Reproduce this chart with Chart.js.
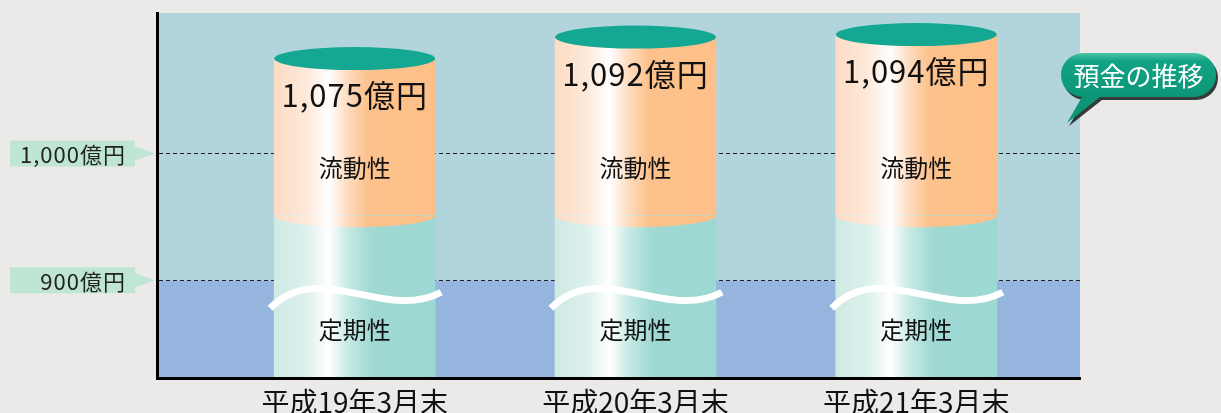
<!DOCTYPE html>
<html><head><meta charset="utf-8">
<script src="https://cdn.jsdelivr.net/npm/chart.js@4.4.0/dist/chart.umd.min.js"></script>
<style>html,body{margin:0;padding:0;background:#ebeae8;overflow:hidden}#wrap{width:1221px;height:413px;position:relative}</style>
</head><body><div id="wrap"><canvas id="c" width="1221" height="413"></canvas></div>
<script>
// ---- data ----
const categories = ['平成19年3月末', '平成20年3月末', '平成21年3月末'];
const totalValues = [1075, 1092, 1094];          // 預金合計（億円）
const fixedTopValues = [951, 951, 951];          // 定期性部分の上端（省略軸上の見かけ値）
const valueLabels = ['1,075億円', '1,092億円', '1,094億円'];
const seriesNames = ['定期性', '流動性'];
const yTickValues = [900, 1000];
const yTickLabels = ['900億円', '1,000億円'];
const titleText = '預金の推移';

// ---- layout constants ----
const Y_MIN = 822.8, Y_MAX = 1111;
const X_MIN = -0.704, X_MAX = 2.583;
const BAR_W = 161;
const FONT = '"Noto Sans CJK JP", "Noto Sans", sans-serif';

const ORANGE_STOPS = [[0, '#fddcc4'], [0.2, '#fee9da'], [0.34, '#ffffff'], [0.45, '#fdddc2'], [0.58, '#fdc28c'], [1, '#fdc088']];
const TEAL_STOPS = [[0, '#cfe9e3'], [0.2, '#dcf0ec'], [0.34, '#ffffff'], [0.45, '#c9ebe6'], [0.6, '#a0d9d4'], [1, '#9dd8d3']];

function makeGrad(chart, cx, stops) {
  const g = chart.ctx.createLinearGradient(cx - BAR_W / 2, 0, cx + BAR_W / 2, 0);
  stops.forEach(([o, c]) => g.addColorStop(o, c));
  return g;
}
function scriptGrad(stops) {
  return (ctx) => {
    const chart = ctx.chart;
    if (!chart.chartArea || !ctx.raw) return stops[stops.length - 1][1];
    const cx = chart.scales.x.getPixelForValue(ctx.raw.x);
    return makeGrad(chart, cx, stops);
  };
}
function setSpacing(ctx, v) { if ('letterSpacing' in ctx) ctx.letterSpacing = v; }

const decor = {
  id: 'decor',
  beforeDraw(chart) {
    const { ctx, chartArea: a, scales } = chart;
    ctx.save();
    ctx.fillStyle = '#ebeae8';
    ctx.fillRect(0, 0, chart.width, chart.height);
    const y9 = scales.y.getPixelForValue(900);
    ctx.fillStyle = '#b2d4dc';
    ctx.fillRect(a.left, a.top, a.right - a.left, y9 - a.top);
    ctx.fillStyle = '#95b5de';
    ctx.fillRect(a.left, y9, a.right - a.left, a.bottom - y9);
    ctx.restore();
  },
  afterDatasetsDraw(chart) {
    const { ctx, scales } = chart;
    const m1 = chart.getDatasetMeta(1).data;
    const y9 = scales.y.getPixelForValue(900);
    ctx.save();
    m1.forEach((el, i) => {
      const cx = el.x, hw = el.width / 2, ry = 11.5;
      const top = Math.min(el.y, el.base), bot = Math.max(el.y, el.base);
      // orange bottom rim over the lower part
      ctx.beginPath();
      ctx.ellipse(cx, bot, hw, ry, 0, 0, Math.PI);
      ctx.closePath();
      ctx.fillStyle = makeGrad(chart, cx, ORANGE_STOPS);
      ctx.fill();
      // top lid
      ctx.beginPath();
      ctx.ellipse(cx, top, hw, ry, 0, 0, Math.PI * 2);
      ctx.fillStyle = '#14a893';
      ctx.fill();
      // axis-break wave
      const L = cx - hw, R = cx + hw;
      ctx.beginPath();
      ctx.moveTo(L - 4, y9 + 28);
      ctx.bezierCurveTo(L + 45, y9 - 22, L + 110, y9 + 42, R + 6, y9 + 12);
      ctx.strokeStyle = '#ffffff';
      ctx.lineWidth = 7;
      ctx.stroke();
      // texts
      ctx.fillStyle = '#111';
      ctx.textAlign = 'center';
      ctx.textBaseline = 'middle';
      ctx.font = '31px ' + FONT;
      setSpacing(ctx, '1px');
      ctx.fillText(valueLabels[i], cx, top + 37);
      setSpacing(ctx, '0px');
      ctx.font = '24px ' + FONT;
      ctx.fillText(seriesNames[1], cx, bot - 48);
      ctx.fillText(seriesNames[0], cx, y9 + 50);
    });
    ctx.restore();
  },
  afterDraw(chart) {
    const { ctx, scales } = chart;
    ctx.save();
    // x category labels
    ctx.fillStyle = '#111';
    ctx.textAlign = 'center';
    ctx.textBaseline = 'middle';
    ctx.font = '28px ' + FONT;
    categories.forEach((c, i) => {
      ctx.fillText(c, scales.x.getPixelForValue(i), 402);
    });
    // y tick labels in boxes
    yTickValues.forEach((v, i) => {
      const y = scales.y.getPixelForValue(v);
      ctx.fillStyle = '#bfe6d5';
      ctx.fillRect(10, y - 13, 125, 26);
      ctx.beginPath();
      ctx.moveTo(135, y - 7);
      ctx.lineTo(155, y);
      ctx.lineTo(135, y + 7);
      ctx.closePath();
      ctx.fill();
      ctx.fillStyle = '#222';
      ctx.textAlign = 'right';
      ctx.font = '22px ' + FONT;
      setSpacing(ctx, '1px');
      ctx.fillText(yTickLabels[i], 126, y + 1);
      setSpacing(ctx, '0px');
    });
    // callout
    const bx = 1061, by = 53, bw = 155, bh = 44, r = 22;
    const shape = (ox, oy) => {
      ctx.beginPath();
      ctx.moveTo(bx + r + ox, by + oy);
      ctx.lineTo(bx + bw - r + ox, by + oy);
      ctx.arc(bx + bw - r + ox, by + r + oy, r, -Math.PI / 2, Math.PI / 2);
      ctx.lineTo(1100 + ox, by + bh + oy);
      ctx.lineTo(1067 + ox, 123 + oy);
      ctx.lineTo(1082 + ox, by + bh + oy);
      ctx.lineTo(bx + r + ox, by + bh + oy);
      ctx.arc(bx + r + ox, by + r + oy, r, Math.PI / 2, Math.PI * 1.5);
      ctx.closePath();
    };
    shape(2, 3);
    ctx.fillStyle = 'rgba(20,30,25,0.85)';
    ctx.fill();
    shape(0, 0);
    const g = ctx.createLinearGradient(0, by, 0, by + bh);
    g.addColorStop(0, '#4cc6a6');
    g.addColorStop(0.18, '#12a384');
    g.addColorStop(1, '#0c9677');
    ctx.fillStyle = g;
    ctx.fill();
    ctx.fillStyle = '#ffffff';
    ctx.textAlign = 'center';
    ctx.font = '26px ' + FONT;
    ctx.fillText(titleText, bx + bw / 2, by + bh / 2 + 1);
    ctx.restore();
  }
};

new Chart(document.getElementById('c'), {
  type: 'bar',
  data: {
    datasets: [
      {
        label: seriesNames[0],
        data: categories.map((c, i) => ({ x: i, y: fixedTopValues[i] })),
        backgroundColor: scriptGrad(TEAL_STOPS),
        borderWidth: 0, grouped: false, barThickness: BAR_W, clip: 0
      },
      {
        label: seriesNames[1],
        data: categories.map((c, i) => ({ x: i, y: [fixedTopValues[i], totalValues[i]] })),
        backgroundColor: scriptGrad(ORANGE_STOPS),
        borderWidth: 0, grouped: false, barThickness: BAR_W, clip: 0
      }
    ]
  },
  options: {
    responsive: false, animation: false, devicePixelRatio: 1,
    layout: { padding: { left: 157, right: 141, top: 13, bottom: 35 } },
    plugins: { legend: { display: false }, tooltip: { enabled: false } },
    scales: {
      x: {
        type: 'linear', min: X_MIN, max: X_MAX, offset: false, bounds: 'data',
        afterBuildTicks(s) { s.ticks = categories.map((c, i) => ({ value: i })); },
        afterFit(s) { s.height = 0; },
        ticks: { display: false },
        grid: { display: false, drawTicks: false, offset: false },
        border: { display: true, color: '#000', width: 3, z: 1 }
      },
      y: {
        min: Y_MIN, max: Y_MAX,
        afterBuildTicks(s) { s.ticks = yTickValues.map(v => ({ value: v })); },
        afterFit(s) { s.width = 0; },
        ticks: { display: false },
        grid: { color: '#222', lineWidth: 1, drawTicks: false },
        border: { display: true, color: '#000', width: 3, dash: [4, 3], z: 1 }
      }
    }
  },
  plugins: [decor]
});
</script>
</body></html>
